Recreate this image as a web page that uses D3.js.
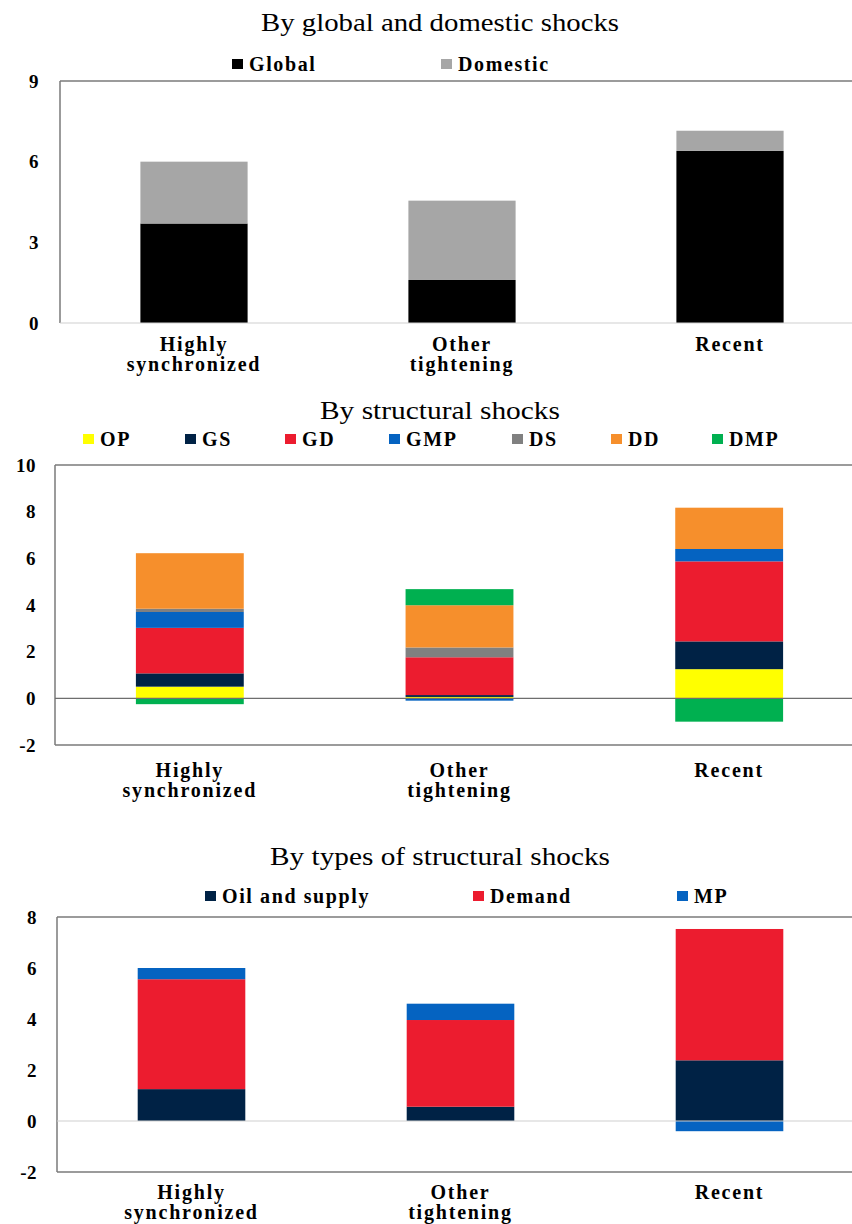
<!DOCTYPE html>
<html><head><meta charset="utf-8">
<script src="https://cdn.jsdelivr.net/npm/d3@7/dist/d3.min.js"></script>
<style>
body{margin:0;background:#fff;}
svg{display:block;}
</style></head>
<body>
<svg id="chart" width="852" height="1224" font-family="Liberation Serif"></svg>
<script>
// ---------- DATA ----------
const categories = ["Highly synchronized", "Other tightening", "Recent"];
const categoryLines = [["Highly","synchronized"],["Other","tightening"],["Recent"]];

// Panel 1: by global and domestic shocks
const p1Series = ["Global", "Domestic"];
const p1Global   = [3.7, 1.6, 6.4];
const p1Domestic = [2.3, 2.95, 0.75];
const p1Ticks = [0, 3, 6, 9];

// Panel 2: by structural shocks
const p2Series = ["OP", "GS", "GD", "GMP", "DS", "DD", "DMP"];
const p2OP  = [0.5, 0.06, 1.25];
const p2GS  = [0.57, 0.08, 1.19];
const p2GD  = [1.95, 1.62, 3.43];
const p2GMP = [0.68, -0.1, 0.53];
const p2DS  = [0.14, 0.42, 0.0];
const p2DD  = [2.38, 1.81, 1.77];
const p2DMP = [-0.25, 0.69, -1.0];
const p2Ticks = [-2, 0, 2, 4, 6, 8, 10];

// Panel 3: by types of structural shocks
const p3Series = ["Oil and supply", "Demand", "MP"];
const p3Oil    = [1.25, 0.56, 2.38];
const p3Demand = [4.31, 3.4, 5.15];
const p3MP     = [0.44, 0.64, -0.4];
const p3Ticks = [-2, 0, 2, 4, 6, 8];

const colors = {
  "Global":"#000000","Domestic":"#a6a6a6",
  "OP":"#ffff00","GS":"#002245","GD":"#ec1c2f","GMP":"#0563c1","DS":"#808080","DD":"#f68f2c","DMP":"#00b050",
  "Oil and supply":"#002245","Demand":"#ec1c2f","MP":"#0563c1"
};

const FONT = "Liberation Serif";

function rows(series, arrays){
  return categories.map((c,i)=>{
    const r = {cat:c};
    series.forEach((s,j)=>{ r[s] = arrays[j][i]; });
    return r;
  });
}

const svg = d3.select("#chart");

function panel(cfg){
  const g = svg.append("g").attr("font-family", FONT);
  const y = d3.scaleLinear().domain(cfg.domain).range([cfg.bottom, cfg.top]);
  const x = d3.scaleBand().domain(categories).range([cfg.left, 864]).paddingInner(0.6).paddingOuter(0.3);

  // title
  g.append("text").attr("x", cfg.titleX).attr("y", cfg.titleY).attr("text-anchor","middle")
    .attr("font-family", FONT).attr("font-size", 26).attr("fill","#000")
    .attr("textLength", cfg.titleLen).attr("lengthAdjust","spacingAndGlyphs").text(cfg.title);

  // legend
  const lg = g.append("g");
  cfg.series.forEach((s,i)=>{
    const lx = cfg.legendX[i];
    lg.append("rect").attr("x", lx).attr("y", cfg.legendY-5).attr("width",11).attr("height",10).attr("fill", colors[s]);
    lg.append("text").attr("x", lx+17).attr("y", cfg.legendY+7).attr("font-family", FONT)
      .attr("font-size",20).attr("font-weight","bold").attr("letter-spacing","1.6px").attr("fill","#000").text(s);
  });

  // bars
  const stack = d3.stack().keys(cfg.series).offset(d3.stackOffsetDiverging);
  const stacked = stack(cfg.data);
  g.append("g").selectAll("g").data(stacked).join("g").attr("fill", d=>colors[d.key])
    .selectAll("rect").data(d=>d).join("rect")
    .attr("x", d=>x(d.data.cat)).attr("width", x.bandwidth())
    .attr("y", d=>y(Math.max(d[0],d[1]))).attr("height", d=>Math.abs(y(d[0])-y(d[1])));

  // frame
  const fc = "#7a7a7a";
  g.append("line").attr("x1", cfg.left).attr("x2", 852).attr("y1", y(cfg.domain[1])).attr("y2", y(cfg.domain[1]))
    .attr("stroke",fc).attr("stroke-width",1.5);
  g.append("line").attr("x1", cfg.left).attr("x2", cfg.left).attr("y1", y(cfg.domain[1])).attr("y2", y(cfg.domain[0]))
    .attr("stroke",fc).attr("stroke-width",1.5);
  if (cfg.domain[0] < 0){
    g.append("line").attr("x1", cfg.left).attr("x2", 852).attr("y1", y(cfg.domain[0])).attr("y2", y(cfg.domain[0]))
      .attr("stroke",fc).attr("stroke-width",1.5);
  }
  g.append("line").attr("x1", cfg.left).attr("x2", 852).attr("y1", y(0)).attr("y2", y(0))
    .attr("stroke", cfg.zeroColor).attr("stroke-width",1.2);

  // y axis tick labels
  const ax = d3.axisLeft(y).tickValues(cfg.ticks).tickSize(0).tickPadding(0).tickFormat(d=>String(d));
  const axg = g.append("g").attr("transform", `translate(${cfg.tickX},0)`).call(ax);
  axg.attr("font-family", FONT);
  axg.select(".domain").remove();
  axg.selectAll("text").attr("font-family", FONT).attr("font-size",19)
    .attr("font-weight","bold").attr("letter-spacing","0.5px").attr("fill","#000");

  // category labels (one text per line)
  categories.forEach((c,i)=>{
    categoryLines[i].forEach((ln,k)=>{
      g.append("text").attr("x", x(c)+x.bandwidth()/2).attr("y", cfg.catY + k*20)
        .attr("text-anchor","middle").attr("font-family", FONT).attr("font-size",20)
        .attr("font-weight","bold").attr("letter-spacing","1.8px").attr("fill","#000").text(ln);
    });
  });
}

panel({
  title:"By global and domestic shocks", titleX:440, titleY:31, titleLen:358,
  series:p1Series, data:rows(p1Series,[p1Global,p1Domestic]),
  legendX:[232,441], legendY:64,
  left:60, top:81, bottom:323, domain:[0,9], ticks:p1Ticks, tickX:39,
  zeroColor:"#d0d0d0", catY:351
});

panel({
  title:"By structural shocks", titleX:440, titleY:419, titleLen:240,
  series:p2Series, data:rows(p2Series,[p2OP,p2GS,p2GD,p2GMP,p2DS,p2DD,p2DMP]),
  legendX:[83,185,285,389,512,611,712], legendY:439,
  left:55, top:465, bottom:745, domain:[-2,10], ticks:p2Ticks, tickX:36,
  zeroColor:"#6e6e6e", catY:777
});

panel({
  title:"By types of structural shocks", titleX:440, titleY:865, titleLen:340,
  series:p3Series, data:rows(p3Series,[p3Oil,p3Demand,p3MP]),
  legendX:[205,473,677], legendY:896,
  left:57, top:917, bottom:1172, domain:[-2,8], ticks:p3Ticks, tickX:37,
  zeroColor:"#d0d0d0", catY:1199
});
</script>
</body></html>
